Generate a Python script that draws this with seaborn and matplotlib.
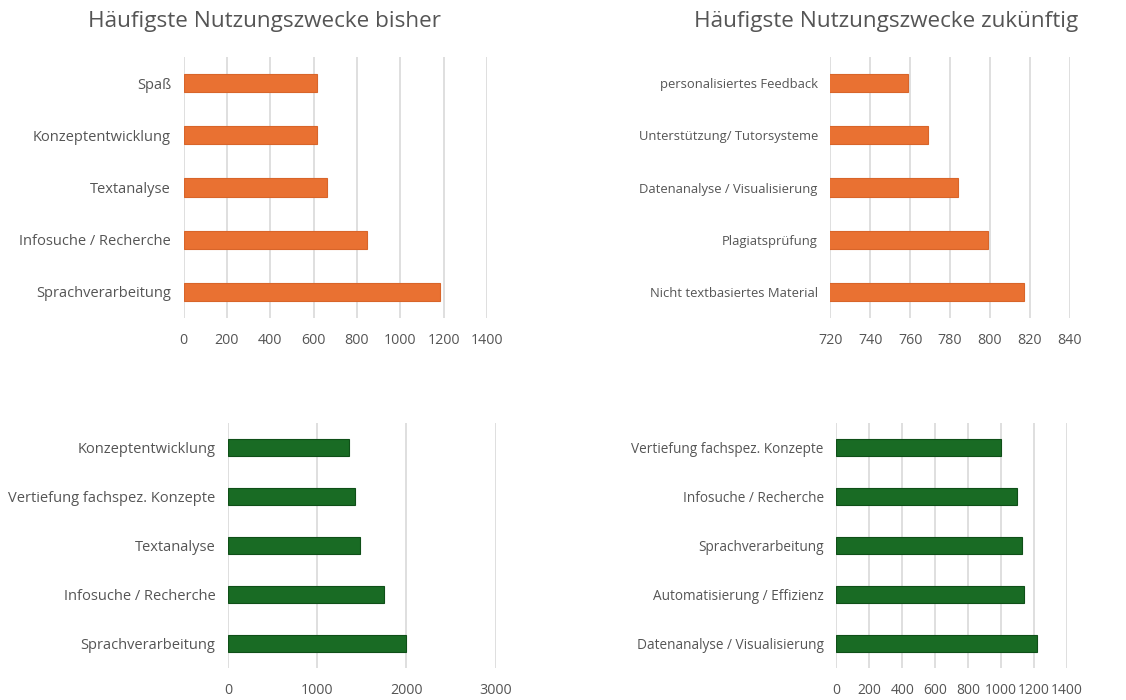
import matplotlib
matplotlib.use("Agg")
import matplotlib.pyplot as plt
import seaborn as sns
import pandas as pd

# ---- data ----
tl_categories = ["Spaß", "Konzeptentwicklung", "Textanalyse", "Infosuche / Recherche", "Sprachverarbeitung"]
tl_values = [618, 618, 660, 845, 1183]

tr_categories = ["personalisiertes Feedback", "Unterstützung/ Tutorsysteme",
                 "Datenanalyse / Visualisierung", "Plagiatsprüfung", "Nicht textbasiertes Material"]
tr_values = [759, 769, 784, 799, 817]

bl_categories = ["Konzeptentwicklung", "Vertiefung fachspez. Konzepte", "Textanalyse",
                 "Infosuche / Recherche", "Sprachverarbeitung"]
bl_values = [1360, 1427, 1476, 1748, 1991]

br_categories = ["Vertiefung fachspez. Konzepte", "Infosuche / Recherche", "Sprachverarbeitung",
                 "Automatisierung / Effizienz", "Datenanalyse / Visualisierung"]
br_values = [999, 1098, 1129, 1137, 1216]

title_left = "Häufigste Nutzungszwecke bisher"
title_right = "Häufigste Nutzungszwecke zukünftig"

sns.set_theme(style="white")
plt.rcParams['font.family'] = ['Open Sans', 'DejaVu Sans']

TEXT = "#555555"
GRID = "#d9d9d9"
ORANGE = "#E97132"
ORANGE_EDGE = "#D8652A"
GREEN = "#196B24"
GREEN_EDGE = "#0F4F18"

W, H = 1126, 700
fig = plt.figure(figsize=(W / 100, H / 100), dpi=100)


def px_axes(x0, x1, y0, y1):
    return fig.add_axes([x0 / W, 1 - y1 / H, (x1 - x0) / W, (y1 - y0) / H])


def draw(ax, cats, vals, color, edge, xlim, xticks, ysize, xsize):
    df = pd.DataFrame({"cat": cats, "val": vals})
    sns.barplot(data=df, x="val", y="cat", orient="h", color=color, width=0.35,
                edgecolor=edge, linewidth=0.8, ax=ax, saturation=1)
    ax.set_xlim(*xlim)
    ax.set_xticks(xticks)
    ax.set_xticklabels([str(t) for t in xticks])
    ax.set_ylim(4.5, -0.5)
    ax.set_xlabel("")
    ax.set_ylabel("")
    for s in ax.spines.values():
        s.set_visible(False)
    ax.grid(axis="x", color=GRID, linewidth=1.2)
    ax.grid(axis="y", visible=False)
    ax.set_axisbelow(True)
    ax.tick_params(axis="y", length=0, pad=9, labelsize=ysize, labelcolor=TEXT)
    ax.tick_params(axis="x", length=0, pad=11, labelsize=xsize, labelcolor=TEXT)
    ax.set_facecolor("none")


ax1 = px_axes(183.5, 487, 57, 318)
draw(ax1, tl_categories, tl_values, ORANGE, ORANGE_EDGE, (0, 1400),
     list(range(0, 1401, 200)), 10.5, 10.3)

ax2 = px_axes(830.3, 1069.7, 57, 318)
draw(ax2, tr_categories, tr_values, ORANGE, ORANGE_EDGE, (720, 840),
     list(range(720, 841, 20)), 9.4, 10.3)

ax3 = px_axes(228, 495.7, 423, 668)
draw(ax3, bl_categories, bl_values, GREEN, GREEN_EDGE, (0, 3000),
     [0, 1000, 2000, 3000], 10.5, 10.3)

ax4 = px_axes(836.3, 1067, 423, 668)
draw(ax4, br_categories, br_values, GREEN, GREEN_EDGE, (0, 1400),
     list(range(0, 1401, 200)), 9.8, 10.0)

fig.text(264 / W, 1 - 22 / H, title_left, ha="center", va="center", fontsize=16.2, color=TEXT)
fig.text(886.5 / W, 1 - 22 / H, title_right, ha="center", va="center", fontsize=16.2, color=TEXT)

fig.savefig("out.png", dpi=100, facecolor="white")
